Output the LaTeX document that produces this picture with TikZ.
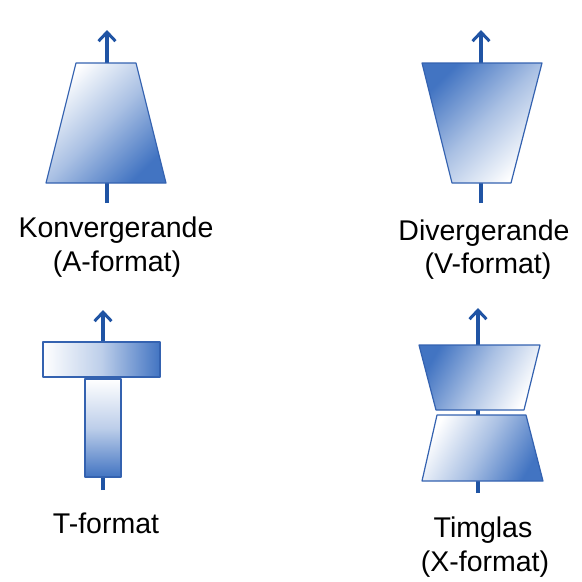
\documentclass[tikz,border=0pt]{standalone}
\usepackage{tikz}
\usetikzlibrary{arrows.meta}
\usepackage{fontspec}
\setmainfont{Liberation Sans}
\definecolor{edgeblue}{RGB}{52,98,176}
\definecolor{arrowblue}{RGB}{32,84,164}
\definecolor{shadeblue}{RGB}{66,116,194}

\begin{document}
\begin{tikzpicture}[x=1pt, y=-1pt,
    flow/.style={arrowblue, line width=3.2pt, -{Straight Barb[length=9pt, width=17pt, line width=3pt]}},
    part/.style={draw=edgeblue, line width=1.2pt, line join=round},
    lbl/.style={font=\fontsize{28.5}{34}\selectfont, anchor=base, inner sep=0pt}]
                \useasboundingbox (0,0) rectangle (582,582);

                % Konvergerande (A-format)
                \coordinate (ain) at (107,203);
                \coordinate (aout) at (107,30);
                \draw[flow] (ain) -- (aout);
                \shade[part, top color=white, bottom color=shadeblue, middle color=shadeblue!45, shading angle=45]
                    (76,63) -- (136,63) -- (166,183) -- (46,183) -- cycle;
                \node[lbl] (aname) at (116,237) {Konvergerande};
                \node[lbl] (aform) at (117,271) {(A-format)};

                % Divergerande (V-format)
                \coordinate (vin) at (481,203);
                \coordinate (vout) at (481,30);
                \draw[flow] (vin) -- (vout);
                \shade[part, top color=shadeblue, bottom color=white, middle color=shadeblue!45, shading angle=45]
                    (422,63) -- (542,63) -- (511,183) -- (452,183) -- cycle;
                \node[lbl] (vname) at (484,240) {Divergerande};
                \node[lbl] (vform) at (488,273) {(V-format)};

                % T-format
                \coordinate (tin) at (103,490);
                \coordinate (tout) at (103,310);
                \draw[flow] (tin) -- (tout);
                \shade[part, left color=white, right color=shadeblue, middle color=shadeblue!35]
                    (43,342) rectangle (160,377);
                \shade[part, top color=white, bottom color=shadeblue, middle color=shadeblue!35]
                    (85,379) rectangle (121,477);
                \node[lbl] (tname) at (106,533) {T-format};

                % Timglas (X-format)
                \coordinate (xin) at (478,493);
                \coordinate (xout) at (478,308);
                \draw[flow] (xin) -- (xout);
                \shade[part, top color=shadeblue, bottom color=white, middle color=shadeblue!45, shading angle=60]
                    (419,345) -- (540,345) -- (524,410) -- (436,410) -- cycle;
                \shade[part, top color=white, bottom color=shadeblue, middle color=shadeblue!45, shading angle=60]
                    (437,415) -- (526,415) -- (543,481) -- (422,481) -- cycle;
                \node[lbl] (xname) at (483,537) {Timglas};
                \node[lbl] (xform) at (485,571) {(X-format)};
            \end{tikzpicture}
\end{document}
